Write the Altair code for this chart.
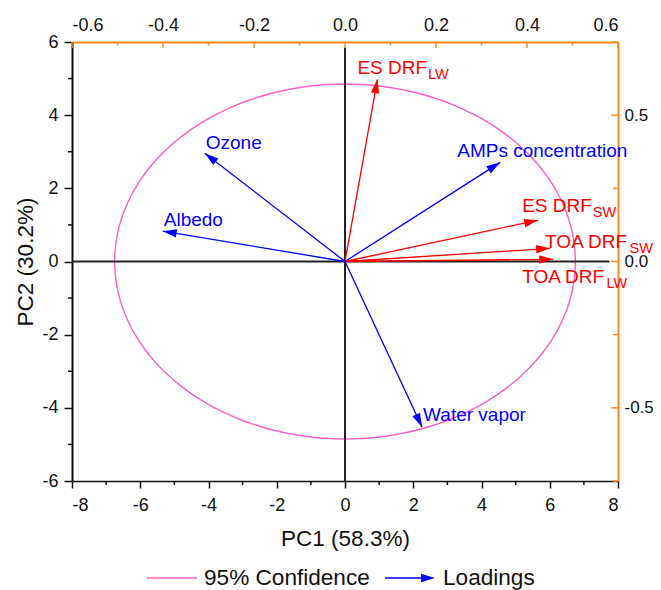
import math
import altair as alt
import pandas as pd
import numpy as np

# ---------------- data ----------------
names = ["ES DRF", "AMPs concentration", "ES DRF", "TOA DRF", "TOA DRF",
         "Ozone", "Albedo", "Water vapor"]
subs = ["LW", "", "SW", "SW", "LW", "", "", ""]
kinds = ["DRF", "Factor", "DRF", "DRF", "DRF", "Factor", "Factor", "Factor"]
pc1 = [0.95, 4.55, 5.66, 6.01, 6.10, -4.11, -5.34, 2.26]
pc2 = [4.98, 2.71, 1.13, 0.36, 0.06, 2.96, 0.83, -4.53]

ellipse_rx = 6.75
ellipse_ry = 4.85

x_major = [-8, -6, -4, -2, 0, 2, 4, 6, 8]
x_minor = [-7, -5, -3, -1, 1, 3, 5, 7]
y_major = [-6, -4, -2, 0, 2, 4, 6]
y_minor = [-5, -3, -1, 1, 3, 5]
top_major = [-0.6, -0.4, -0.2, 0.0, 0.2, 0.4, 0.6]
top_minor = [-0.5, -0.3, -0.1, 0.1, 0.3, 0.5]
right_major = [-0.5, 0.0, 0.5]
right_minor = [-0.75, -0.25, 0.25, 0.75]

# ---------------- layout / style ----------------
W, H = 546, 439
PX = W / 16.0
PY = H / 12.0
FONT = "Liberation Sans"
RED = "#FF0000"
BLUE = "#0000FF"
PINK = "#FF5EC4"
ORANGE = "#FF8A1E"
LAB_SIZE = 19
SUB_SIZE = 14.5
lab_dx = [-20, -43, -16, -5, -31, 1, 1, 1]
lab_dy = [-11, -11, -14, -6, 18, -10, -11, -12]
ARROW = "M0,0L0.6,2L-0.6,2Z"

arial = {"E": .667, "S": .667, " ": .278, "D": .722, "R": .722, "F": .611,
         "T": .611, "O": .778, "A": .667}

def twidth(s, size):
    return sum(arial.get(c, .556) for c in s) * size

df = pd.DataFrame({"name": names, "sub": subs, "kind": kinds,
                   "pc1": pc1, "pc2": pc2})
df["x0"] = 0.0
df["y0"] = 0.0
df["ang"] = [(90 - math.degrees(math.atan2(b * PY, a * PX))) % 360
             for a, b in zip(pc1, pc2)]
df["lx"] = [a + d / PX for a, d in zip(pc1, lab_dx)]
df["ly"] = [b - d / PY for b, d in zip(pc2, lab_dy)]
df["sx"] = [lx + (twidth(n, LAB_SIZE) + 1) / PX for lx, n in zip(df["lx"], names)]
df["sy"] = [ly - 7 / PY for ly in df["ly"]]
dsub = df[df["sub"] != ""]

t = np.linspace(0, 2 * np.pi, 181)
dfe = pd.DataFrame({"x": ellipse_rx * np.cos(t), "y": ellipse_ry * np.sin(t),
                    "o": np.arange(len(t))})

zl = pd.DataFrame({"x1": [-8.0, 0.0], "x2": [7.75, 0.0],
                   "y1": [0.0, -6.0], "y2": [0.0, 5.85]})

xs = alt.Scale(domain=[-8, 8], nice=False, zero=False)
ys = alt.Scale(domain=[-6, 6], nice=False, zero=False)
color = alt.Color("kind:N", scale=alt.Scale(domain=["DRF", "Factor"], range=[RED, BLUE]),
                  legend=None)

x_axis = alt.Axis(values=x_major, orient="bottom", title="PC1 (58.3%)",
                  labelExpr="'' + datum.value",
                  tickSize=7, labelFontSize=18, labelPadding=8, labelColor="#111",
                  domainColor="#111", domainWidth=1.6, tickColor="#111", tickWidth=1.5,
                  titleFontSize=22.5, titleFontWeight="normal", titleColor="#111",
                  titleY=57, titleBaseline="middle", grid=False)
y_axis = alt.Axis(values=y_major, orient="left", title="PC2 (30.2%)",
                  labelExpr="'' + datum.value",
                  tickSize=8, labelFontSize=18, labelPadding=6, labelColor="#111",
                  domainColor="#111", domainWidth=2, tickColor="#111", tickWidth=1.5,
                  titleFontSize=22.5, titleFontWeight="normal", titleColor="#111",
                  titleAngle=270, titleX=-47, titleY=H / 2, titleAlign="center",
                  titleBaseline="middle", grid=False)

ellipse = alt.Chart(dfe).mark_line(color=PINK, strokeWidth=1.4).encode(
    x=alt.X("x:Q", scale=xs, axis=x_axis),
    y=alt.Y("y:Q", scale=ys, axis=y_axis),
    order="o:Q")

zero = alt.Chart(zl).mark_rule(color="#222", strokeWidth=2).encode(
    x=alt.X("x1:Q", scale=xs, axis=None), x2="x2:Q",
    y=alt.Y("y1:Q", scale=ys, axis=None), y2="y2:Q")

xmin_df = pd.DataFrame({"u": x_minor})
ymin_df = pd.DataFrame({"v": y_minor})
xminor = alt.Chart(xmin_df).mark_rule(color="#111", strokeWidth=1.5).encode(
    x=alt.X("u:Q", scale=xs, axis=None), y=alt.value(H), y2=alt.value(H + 4))
yminor = alt.Chart(ymin_df).mark_rule(color="#111", strokeWidth=1.5).encode(
    y=alt.Y("v:Q", scale=ys, axis=None), x=alt.value(0), x2=alt.value(-4))

stems = alt.Chart(df).mark_rule(strokeWidth=1.3).encode(
    x=alt.X("pc1:Q", scale=xs, axis=None), x2="x0:Q",
    y=alt.Y("pc2:Q", scale=ys, axis=None), y2="y0:Q", color=color)

heads = alt.Chart(df).mark_point(shape=ARROW, filled=True, opacity=1, size=196,
                                 strokeWidth=0).encode(
    x=alt.X("pc1:Q", scale=xs, axis=None),
    y=alt.Y("pc2:Q", scale=ys, axis=None),
    angle=alt.Angle("ang:Q", scale=None), color=color)

labels = alt.Chart(df).mark_text(align="left", baseline="middle", fontSize=LAB_SIZE,
                                 font=FONT).encode(
    x=alt.X("lx:Q", scale=xs, axis=None),
    y=alt.Y("ly:Q", scale=ys, axis=None),
    text="name:N", color=color)

sublabels = alt.Chart(dsub).mark_text(align="left", baseline="middle", fontSize=SUB_SIZE,
                                      font=FONT).encode(
    x=alt.X("sx:Q", scale=xs, axis=None),
    y=alt.Y("sy:Q", scale=ys, axis=None),
    text="sub:N", color=color)

one = pd.DataFrame({"a": [0]})
LY = 536
leg_pink = alt.Chart(one).mark_rule(color=PINK, strokeWidth=1.6).encode(
    x=alt.value(75), x2=alt.value(125), y=alt.value(LY))
leg_pink_t = alt.Chart(one).mark_text(text="95% Confidence", align="left", baseline="middle",
                                      fontSize=22.6, font=FONT, color="#111").encode(
    x=alt.value(132), y=alt.value(LY))
leg_blue = alt.Chart(one).mark_rule(color=BLUE, strokeWidth=1.6).encode(
    x=alt.value(313), x2=alt.value(352), y=alt.value(LY))
leg_blue_h = alt.Chart(one).mark_point(shape=ARROW, filled=True, opacity=1, size=196,
                                       strokeWidth=0, color=BLUE, angle=90).encode(
    x=alt.value(363), y=alt.value(LY))
leg_blue_t = alt.Chart(one).mark_text(text="Loadings", align="left", baseline="middle",
                                      fontSize=22.6, font=FONT, color="#111").encode(
    x=alt.value(371), y=alt.value(LY))

# ---------------- secondary (loadings) axes ----------------
xs2 = alt.Scale(domain=[-0.6, 0.6], nice=False, zero=False)
ys2 = alt.Scale(domain=[-0.75, 0.75], nice=False, zero=False)
fmt = "datum.value < -0.001 ? '-' + format(-datum.value, '.1f') : format(abs(datum.value), '.1f')"
top_axis = alt.Axis(orient="top", values=top_major, labelExpr=fmt, title=None,
                    ticks=False, labelPadding=8, labelFontSize=18,
                    labelColor="#111", domainColor=ORANGE, domainWidth=2, grid=False)
right_axis = alt.Axis(orient="right", values=right_major, labelExpr=fmt, title=None,
                      ticks=False, labelPadding=6, labelFontSize=17,
                      labelColor="#111", domainColor=ORANGE, domainWidth=2, grid=False)

lim = pd.DataFrame({"u": [-0.6, 0.6], "v": [-0.75, 0.75]})
dummy = alt.Chart(lim).mark_point(opacity=0).encode(
    x=alt.X("u:Q", scale=xs2, axis=top_axis),
    y=alt.Y("v:Q", scale=ys2, axis=right_axis))

tmaj = pd.DataFrame({"u": top_major})
tmin = pd.DataFrame({"u": top_minor})
rmaj = pd.DataFrame({"v": right_major})
rmin = pd.DataFrame({"v": right_minor})
tick_top_maj = alt.Chart(tmaj).mark_rule(color=ORANGE, strokeWidth=1.5).encode(
    x=alt.X("u:Q", scale=xs2, axis=None), y=alt.value(0), y2=alt.value(6))
tick_top_min = alt.Chart(tmin).mark_rule(color=ORANGE, strokeWidth=1.5).encode(
    x=alt.X("u:Q", scale=xs2, axis=None), y=alt.value(0), y2=alt.value(3.5))
tick_r_maj = alt.Chart(rmaj).mark_rule(color=ORANGE, strokeWidth=1.5).encode(
    y=alt.Y("v:Q", scale=ys2, axis=None), x=alt.value(W), x2=alt.value(W - 7))
tick_r_min = alt.Chart(rmin).mark_rule(color=ORANGE, strokeWidth=1.5).encode(
    y=alt.Y("v:Q", scale=ys2, axis=None), x=alt.value(W), x2=alt.value(W - 5))

chart = alt.layer(
    ellipse, dummy, zero, xminor, yminor, tick_top_maj, tick_top_min, tick_r_maj, tick_r_min,
    stems, heads, labels, sublabels,
    leg_pink, leg_pink_t, leg_blue, leg_blue_h, leg_blue_t
).resolve_scale(
    x="independent", y="independent"
).properties(
    width=W, height=H,
    autosize=alt.AutoSizeParams(type="none"),
    padding={"left": 64, "top": 34, "right": 35, "bottom": 112},
).configure(font=FONT).configure_view(stroke=None).configure_axis(
    labelFont=FONT, titleFont=FONT)

chart.save("out.html", embed_options={"renderer": "svg", "actions": False})
